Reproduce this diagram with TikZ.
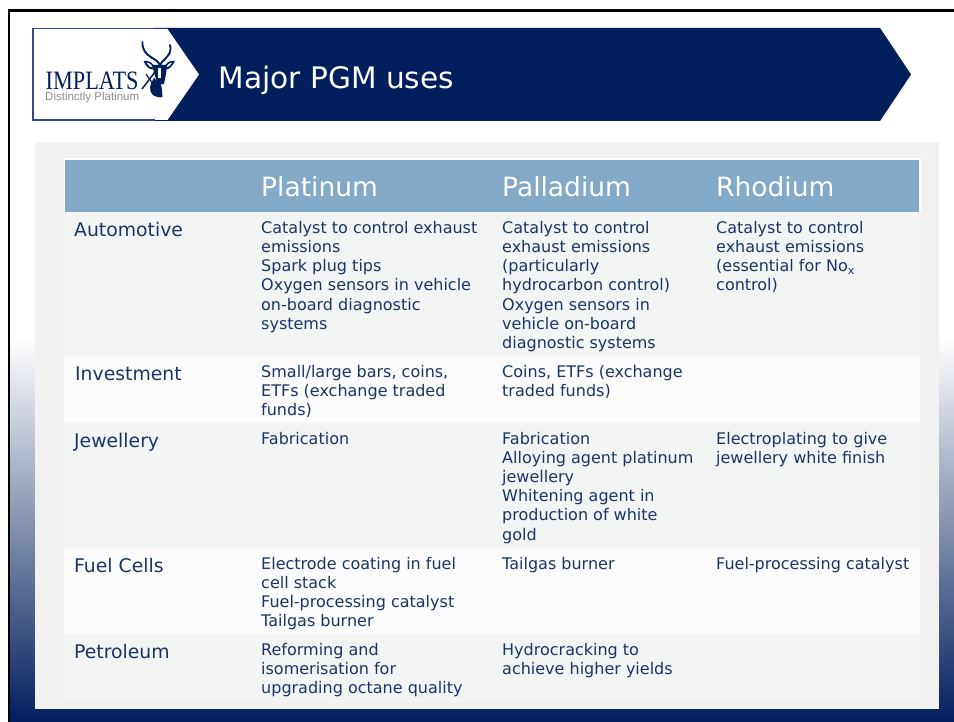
\documentclass[tikz,border=0pt]{standalone}
\usepackage{fontspec}
\setmainfont{DejaVu Sans}
\newfontfamily\logoserif[FakeStretch=0.84]{Liberation Serif}
\newfontfamily\logosans{Liberation Sans}
\definecolor{navy}{HTML}{001F5C}
\definecolor{inktext}{HTML}{1B3468}
\definecolor{headblue}{HTML}{82A9C8}
\definecolor{panelgrey}{HTML}{F1F1F1}
\definecolor{rowa}{HTML}{F3F5F5}
\definecolor{rowb}{HTML}{FBFBFB}
\definecolor{logoline}{HTML}{2F4A85}
\tikzset{
  x=1pt,y=-1pt,
  bodytext/.style={anchor=north west,inner sep=0pt,align=left,text=inktext,
    font=\fontsize{16}{19.1}\selectfont,execute at begin node={\rule{0pt}{12pt}}},
  rowlabel/.style={anchor=base west,inner sep=0pt,text=inktext,font=\fontsize{18.8}{22}\selectfont},
  headtext/.style={anchor=base west,inner sep=0pt,text=white,font=\fontsize{26.5}{30}\selectfont},
}
\begin{document}
\begin{tikzpicture}
\useasboundingbox (0,0) rectangle (954,722);
% background
\fill[white] (0,0) rectangle (954,722);
\shade[top color=white,bottom color=navy,shading angle=0] (10,338) rectangle (954,722);
\fill[black] (7.5,9) rectangle (954,12);
\fill[black] (7.5,9) rectangle (10,722);
% banner
\fill[navy] (153,28) -- (880,28) -- (911,74.5) -- (880,121) -- (153,121) -- cycle;
\fill[white] (33,29) -- (167.5,29) -- (199,74.5) -- (167.5,120) -- (33,120) -- cycle;
\draw[logoline,line width=1.2pt] (155,28.7) -- (33,28.7) -- (33,120) -- (155,120);
% logo
\node[anchor=base west,inner sep=0pt,text=navy,font=\logoserif\fontsize{26.5}{28}\selectfont] (logoname) at (45.5,90) {IMPLATS};
\node[anchor=base west,inner sep=0pt,text=black!45,font=\logosans\fontsize{11.5}{12}\selectfont] (logotag) at (45,101) {Distinctly Platinum};
% antelope
\draw[navy,line width=1.9pt,line cap=round] (142.5,42) .. controls (142,50) and (146,54) .. (152,58) .. controls (156,60) and (159,62) .. (160,66);
\draw[navy,line width=1.9pt,line cap=round] (170,45) .. controls (172,52) and (168,56) .. (165,59) .. controls (162,61) and (161,63) .. (160,66);
\fill[navy] (143.5,61) .. controls (149,60) and (154,63) .. (155,69) .. controls (150,71) and (146,67) .. (143.5,61) -- cycle;
\fill[navy] (175,61) .. controls (170,60) and (165,63) .. (164,69) .. controls (168,71) and (172,67) .. (175,61) -- cycle;
\fill[white] (146.5,62.5) .. controls (149,62.5) and (152,64.5) .. (153,67.5) .. controls (150,67.5) and (148,65.5) .. (146.5,62.5) -- cycle;
\fill[white] (172,62.5) .. controls (170,62.5) and (167,64.5) .. (166,67.5) .. controls (168.5,67.5) and (170.5,65.5) .. (172,62.5) -- cycle;
\fill[navy] (152,65) -- (167,65) -- (166,74) -- (164,84) -- (158,85) -- (155,76) -- cycle;
\fill[white] (158,68) -- (161,68) -- (161,78) -- (158,78) -- cycle;
\fill[navy] (154,78) .. controls (150,84) and (148,90) .. (153,95) .. controls (156,97) and (160,98) .. (162.5,97) .. controls (162,92) and (162,88) .. (161,85) -- cycle;
\draw[navy,line width=1.5pt] (142,89) -- (155,72);
\draw[navy,line width=1.2pt] (146,74) -- (153,84);
% title
\node[anchor=base west,inner sep=0pt,text=white,font=\fontsize{29.6}{32}\selectfont] (title) at (218.5,88.5) {Major PGM uses};
% panel and table
\fill[panelgrey] (35,142) rectangle (939,709);
\fill[white] (63.5,158.5) rectangle (920.5,212);
\fill[headblue] (65,160) rectangle (919,212);
\fill[rowa] (64,212) rectangle (920,356);
\fill[rowb] (64,356) rectangle (920,423);
\fill[rowa] (64,423) rectangle (920,548);
\fill[rowb] (64,548) rectangle (920,634);
\fill[rowa] (64,634) rectangle (920,702);
% header
\node[headtext] (hpt) at (261,196.5) {Platinum};
\node[headtext] (hpd) at (502,196.5) {Palladium};
\node[headtext] (hrh) at (716,196.5) {Rhodium};
% row labels
\node[rowlabel] (lauto) at (74,236.7) {Automotive};
\node[rowlabel] (linv) at (75,380) {Investment};
\node[rowlabel] (ljew) at (74,447) {Jewellery};
\node[rowlabel] (lfuel) at (74,572) {Fuel Cells};
\node[rowlabel] (lpet) at (74,658) {Petroleum};
% automotive
\node[bodytext] (a1) at (261,221.3) {Catalyst to control exhaust\\emissions\\Spark plug tips\\Oxygen sensors in vehicle\\on-board diagnostic\\systems};
\node[bodytext] (a2) at (502,221.3) {Catalyst to control\\exhaust emissions\\(particularly\\hydrocarbon control)\\Oxygen sensors in\\vehicle on-board\\diagnostic systems};
\node[bodytext] (a3) at (716,221.3) {Catalyst to control\\exhaust emissions\\(essential for No\raisebox{-3pt}{\fontsize{11}{11}\selectfont x}\\control)};
% investment
\node[bodytext] (i1) at (261,364.8) {Small/large bars, coins,\\ETFs (exchange traded\\funds)};
\node[bodytext] (i2) at (502,364.8) {Coins, ETFs (exchange\\traded funds)};
% jewellery
\node[bodytext] (j1) at (261,432.2) {Fabrication};
\node[bodytext] (j2) at (502,432.2) {Fabrication\\Alloying agent platinum\\jewellery\\Whitening agent in\\production of white\\gold};
\node[bodytext] (j3) at (716,432.2) {Electroplating to give\\jewellery white finish};
% fuel cells
\node[bodytext] (f1) at (261,557.1) {Electrode coating in fuel\\cell stack\\Fuel-processing catalyst\\Tailgas burner};
\node[bodytext] (f2) at (502,557.1) {Tailgas burner};
\node[bodytext] (f3) at (716,557.1) {Fuel-processing catalyst};
% petroleum
\node[bodytext] (p1) at (261,643.1) {Reforming and\\isomerisation for\\upgrading octane quality};
\node[bodytext] (p2) at (502,643.1) {Hydrocracking to\\achieve higher yields};
\end{tikzpicture}
\end{document}
